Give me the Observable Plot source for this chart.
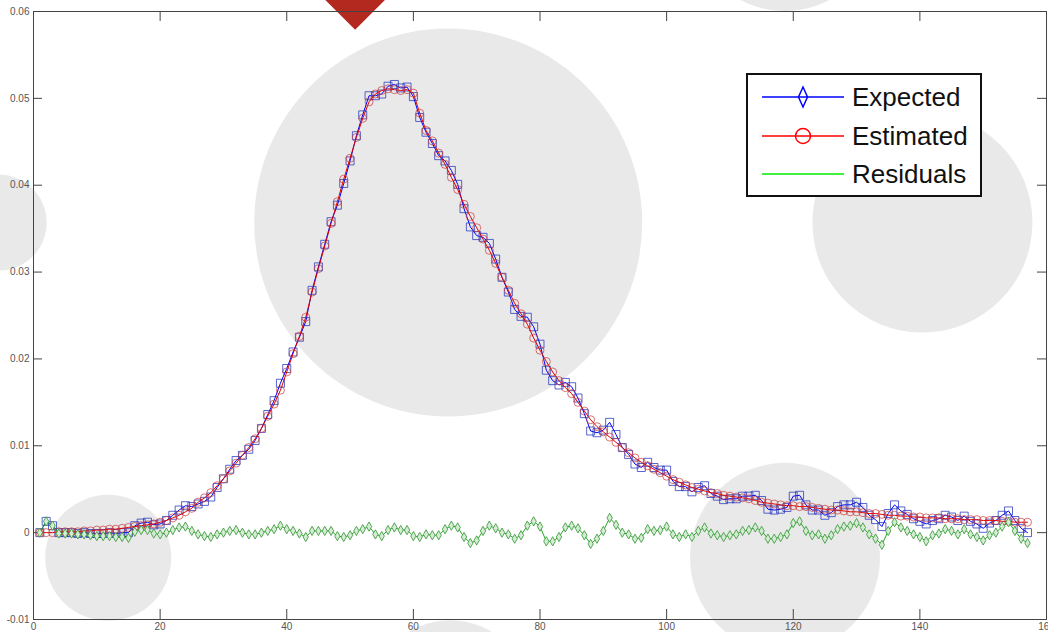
<!DOCTYPE html>
<html><head><meta charset="utf-8">
<script src="https://cdn.jsdelivr.net/npm/d3@7"></script>
<script src="https://cdn.jsdelivr.net/npm/@observablehq/plot@0.6"></script>
<style>
html,body{margin:0;padding:0;background:#fff;overflow:hidden;}
#wrap{position:relative;width:1048px;height:632px;}
#legend{position:absolute;left:746px;top:73px;width:236px;height:124px;box-sizing:border-box;border:2px solid #111;background:#fff;font-family:"Liberation Sans",Arial,sans-serif;}
.row{position:absolute;left:0;height:38px;width:100%;}
.row svg{position:absolute;left:14px;top:0;}
.row span{position:absolute;left:104px;top:0;line-height:38px;font-size:26px;color:#111;}
</style></head><body><div id="wrap"></div>
<script>
const seriesNames = ["Expected", "Estimated", "Residuals"];
const xTicks = [0, 20, 40, 60, 80, 100, 120, 140, 160];
const yTicks = [-0.01, 0, 0.01, 0.02, 0.03, 0.04, 0.05, 0.06];

const expected = [
0.0000,0.0013,0.0008,0.0000,0.0000,0.0000,-0.0001,0.0000,-0.0001,-0.0001,
-0.0001,0.0000,-0.0001,0.0000,0.0000,0.0008,0.0011,0.0012,0.0009,0.0010,
0.0014,0.0020,0.0026,0.0031,0.0030,0.0033,0.0036,0.0041,0.0052,0.0062,
0.0073,0.0083,0.0089,0.0096,0.0106,0.0120,0.0136,0.0152,0.0172,0.0189,
0.0208,0.0225,0.0243,0.0279,0.0306,0.0332,0.0358,0.0377,0.0402,0.0428,
0.0457,0.0481,0.0503,0.0503,0.0505,0.0514,0.0516,0.0512,0.0513,0.0502,
0.0478,0.0461,0.0448,0.0434,0.0428,0.0417,0.0401,0.0373,0.0352,0.0342,
0.0340,0.0333,0.0315,0.0294,0.0277,0.0257,0.0249,0.0248,0.0237,0.0217,
0.0187,0.0175,0.0170,0.0173,0.0168,0.0155,0.0137,0.0117,0.0115,0.0118,
0.0127,0.0113,0.0098,0.0090,0.0079,0.0075,0.0081,0.0075,0.0072,0.0072,
0.0059,0.0053,0.0053,0.0047,0.0052,0.0054,0.0045,0.0042,0.0038,0.0039,
0.0039,0.0042,0.0042,0.0043,0.0037,0.0027,0.0026,0.0027,0.0029,0.0042,
0.0043,0.0032,0.0026,0.0026,0.0020,0.0023,0.0030,0.0032,0.0032,0.0035,
0.0029,0.0020,0.0015,0.0007,0.0022,0.0032,0.0025,0.0021,0.0016,0.0013,
0.0010,0.0014,0.0016,0.0020,0.0018,0.0014,0.0019,0.0013,0.0010,0.0005,
0.0011,0.0014,0.0020,0.0025,0.0014,0.0005,0.0000];

const estimated = [
0.0000,0.0000,0.0000,0.0001,0.0001,0.0001,0.0001,0.0002,0.0002,0.0003,
0.0003,0.0004,0.0004,0.0005,0.0006,0.0007,0.0008,0.0009,0.0010,0.0012,
0.0014,0.0017,0.0020,0.0024,0.0028,0.0035,0.0040,0.0046,0.0054,0.0062,
0.0071,0.0080,0.0089,0.0098,0.0108,0.0120,0.0134,0.0148,0.0164,0.0185,
0.0206,0.0226,0.0248,0.0277,0.0304,0.0330,0.0356,0.0381,0.0407,0.0431,
0.0455,0.0477,0.0496,0.0505,0.0509,0.0511,0.0510,0.0509,0.0510,0.0506,
0.0483,0.0463,0.0451,0.0437,0.0424,0.0409,0.0395,0.0378,0.0364,0.0351,
0.0338,0.0325,0.0310,0.0294,0.0279,0.0264,0.0252,0.0240,0.0224,0.0210,
0.0197,0.0185,0.0175,0.0167,0.0160,0.0150,0.0140,0.0130,0.0122,0.0116,
0.0110,0.0104,0.0098,0.0092,0.0086,0.0081,0.0077,0.0073,0.0069,0.0065,
0.0061,0.0058,0.0055,0.0052,0.0050,0.0048,0.0046,0.0045,0.0043,0.0042,
0.0041,0.0040,0.0039,0.0037,0.0035,0.0034,0.0033,0.0032,0.0031,0.0031,
0.0030,0.0030,0.0029,0.0028,0.0027,0.0026,0.0026,0.0025,0.0024,0.0024,
0.0023,0.0022,0.0022,0.0021,0.0020,0.0020,0.0019,0.0019,0.0018,0.0018,
0.0017,0.0017,0.0017,0.0016,0.0016,0.0016,0.0015,0.0015,0.0015,0.0014,
0.0014,0.0014,0.0013,0.0013,0.0012,0.0012,0.0012];

const residuals = [
0.0000,0.0013,0.0008,-0.0001,-0.0001,-0.0001,-0.0002,-0.0002,-0.0003,-0.0004,
-0.0004,-0.0004,-0.0005,-0.0005,-0.0006,0.0001,0.0003,0.0003,-0.0001,-0.0002,
0.0000,0.0003,0.0006,0.0007,0.0002,-0.0002,-0.0004,-0.0005,-0.0002,0.0000,
0.0002,0.0003,0.0000,-0.0002,-0.0002,0.0000,0.0002,0.0004,0.0008,0.0004,
0.0002,-0.0001,-0.0005,0.0002,0.0002,0.0002,0.0002,-0.0004,-0.0005,-0.0003,
0.0002,0.0004,0.0007,-0.0002,-0.0004,0.0003,0.0006,0.0003,0.0003,-0.0004,
-0.0005,-0.0002,-0.0003,-0.0003,0.0004,0.0008,0.0006,-0.0005,-0.0012,-0.0009,
0.0002,0.0008,0.0005,0.0000,-0.0002,-0.0007,-0.0003,0.0008,0.0013,0.0007,
-0.0010,-0.0010,-0.0005,0.0006,0.0008,0.0005,-0.0003,-0.0013,-0.0007,0.0002,
0.0017,0.0009,0.0000,-0.0002,-0.0007,-0.0006,0.0004,0.0002,0.0003,0.0007,
-0.0002,-0.0005,-0.0002,-0.0005,0.0002,0.0006,-0.0001,-0.0003,-0.0005,-0.0003,
-0.0002,0.0002,0.0003,0.0006,0.0002,-0.0007,-0.0007,-0.0005,-0.0002,0.0011,
0.0013,0.0002,-0.0003,-0.0002,-0.0007,-0.0003,0.0004,0.0007,0.0008,0.0011,
0.0006,-0.0002,-0.0007,-0.0014,0.0002,0.0012,0.0006,0.0002,-0.0002,-0.0005,
-0.0010,-0.0003,-0.0001,0.0004,0.0002,-0.0002,0.0004,-0.0002,-0.0005,-0.0009,
-0.0003,0.0000,0.0007,0.0012,0.0002,-0.0007,-0.0012];

// decorative background blobs (data units)
const blobX = [65.5, -5.5, 140.4, 11.8, 118.7, 118.7, 65.8];
const blobY = [0.0357, 0.0357, 0.0357, -0.0029, -0.0029, 0.0710, -0.0193];
const blobR = [194, 48, 110, 63, 95, 95, 80];
const badgeX = [50.8];
const badgeY = [0.0616];

const rows = expected.map((v, i) => ({s: i + 1, expected: v, estimated: estimated[i], residual: residuals[i]}));
const blobs = blobX.map((x, i) => ({x, y: blobY[i], r: blobR[i]}));
const badge = badgeX.map((x, i) => ({x, y: badgeY[i]}));

const W = 1048, H = 632, mL = 33, mR = 2, mT = 11, mB = 13;
const innerW = W - mL - mR, innerH = H - mT - mB;
const fmtY = d => d === 0 ? "0" : String(+d.toFixed(2));

const chart = Plot.plot({
  width: W, height: H,
  marginLeft: mL, marginRight: mR, marginTop: mT, marginBottom: mB,
  x: {domain: [0, 160]},
  y: {domain: [-0.01, 0.06]},
  r: {type: "identity"},
  style: {fontFamily: "'Liberation Sans', Arial, sans-serif", background: "transparent", overflow: "visible"},
  marks: [
    Plot.dot(blobs, {x: "x", y: "y", r: "r", fill: "#e9e9e9"}),
    Plot.dot(badge, {x: "x", y: "y", r: 29, symbol: "diamond2", fill: "#b3281f"}),
    Plot.axisX(xTicks, {tickSize: 0, tickPadding: 3, fontSize: 10, fill: "#555", label: null, tickFormat: d => String(d)}),
    Plot.axisY(yTicks, {tickSize: 0, tickPadding: 4, fontSize: 10, fill: "#555", label: null, tickFormat: fmtY}),
    Plot.ruleX(xTicks, {x: d => d, insetTop: innerH - 10, stroke: "#444"}),
    Plot.ruleX(xTicks, {x: d => d, insetBottom: innerH - 10, stroke: "#444"}),
    Plot.ruleY(yTicks, {y: d => d, insetRight: innerW - 9, stroke: "#444"}),
    Plot.ruleY(yTicks, {y: d => d, insetLeft: innerW - 9, stroke: "#444"}),
    Plot.frame({stroke: "#444"}),
    Plot.line(rows, {x: "s", y: "expected", stroke: "#0000ff", strokeWidth: 1}),
    Plot.dot(rows, {x: "s", y: "expected", symbol: "square", r: 4.5, stroke: "#2233bb", strokeOpacity: 0.75, fill: "none", strokeWidth: 1}),
    Plot.line(rows, {x: "s", y: "estimated", stroke: "#e00000", strokeWidth: 1}),
    Plot.dot(rows, {x: "s", y: "estimated", symbol: "circle", r: 4, stroke: "#c83a3a", strokeOpacity: 0.7, fill: "none", strokeWidth: 1}),
    Plot.line(rows, {x: "s", y: "residual", stroke: "#22aa22", strokeWidth: 1}),
    Plot.dot(rows, {x: "s", y: "residual", symbol: "diamond", r: 2.8, stroke: "#3a9a3a", strokeOpacity: 0.85, fill: "#d4ecd4", strokeWidth: 1})
  ]
});

const wrap = document.getElementById("wrap");
wrap.appendChild(chart);

// legend
const legend = document.createElement("div");
legend.id = "legend";
const legendColors = ["#0000ff", "#ff0000", "#00ee00"];
seriesNames.forEach((name, i) => {
  const row = document.createElement("div");
  row.className = "row";
  row.style.top = (3 + i * 38.5) + "px";
  let marker = "";
  if (i === 0) marker = `<polygon points="41,9 45.5,19 41,29 36.5,19" fill="none" stroke="${legendColors[i]}" stroke-width="1.5"/>`;
  if (i === 1) marker = `<circle cx="41" cy="19" r="7.5" fill="none" stroke="${legendColors[i]}" stroke-width="1.5"/>`;
  row.innerHTML = `<svg width="82" height="38"><line x1="0" y1="19" x2="82" y2="19" stroke="${legendColors[i]}" stroke-width="1.5"/>${marker}</svg><span>${name}</span>`;
  legend.appendChild(row);
});
wrap.appendChild(legend);
</script>
</body></html>
